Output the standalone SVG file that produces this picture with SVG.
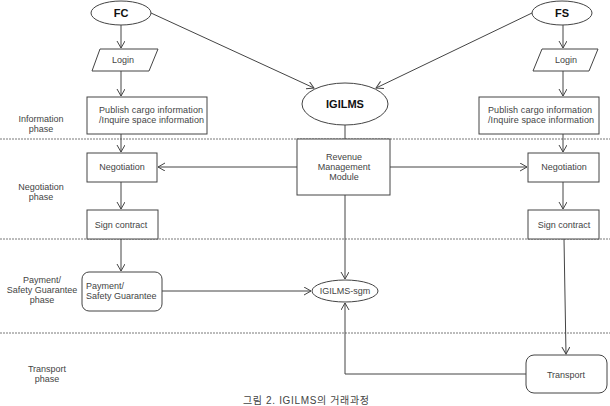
<svg xmlns="http://www.w3.org/2000/svg" width="610" height="406" viewBox="0 0 610 406">
<defs>
<marker id="arr" markerUnits="userSpaceOnUse" markerWidth="10" markerHeight="10" refX="7" refY="4" orient="auto">
<path d="M0,0 L7,4 L0,8" fill="none" stroke="#444" stroke-width="1"/>
</marker>
<style>
.bg{fill:#fff}
.n{fill:#fff;stroke:#444;stroke-width:1}
.c{fill:none;stroke:#444;stroke-width:1}
.a{fill:none;stroke:#444;stroke-width:1;marker-end:url(#arr)}
.d{fill:none;stroke:#555;stroke-width:0.8;stroke-dasharray:2 1}
.t{font-family:"Liberation Sans",Arial,sans-serif;font-size:9px;fill:#444;text-anchor:middle}
.l{font-family:"Liberation Sans",Arial,sans-serif;font-size:9px;fill:#444}
.b{font-family:"Liberation Sans",Arial,sans-serif;font-size:11px;font-weight:bold;fill:#111;text-anchor:middle}
.cap{font-family:"Liberation Sans","Noto Sans CJK KR",sans-serif;font-size:10px;fill:#444}
</style>
</defs>
<rect class="bg" x="0" y="0" width="610" height="406"/>
<g id="phases">
<line class="d" x1="0" y1="139" x2="610" y2="139"/>
<line class="d" x1="0" y1="239" x2="610" y2="239"/>
<line class="d" x1="0" y1="333" x2="610" y2="333"/>
<text class="t" x="41" y="122">Information</text>
<text class="t" x="41" y="132">phase</text>
<text class="t" x="41" y="190">Negotiation</text>
<text class="t" x="41" y="200">phase</text>
<text class="t" x="42" y="283">Payment/</text>
<text class="t" x="42" y="293">Safety Guarantee</text>
<text class="t" x="42" y="303">phase</text>
<text class="t" x="47" y="372">Transport</text>
<text class="t" x="47" y="382">phase</text>
</g>
<g id="connectors">
<line class="a" x1="121" y1="25" x2="121" y2="48"/>
<line class="a" x1="121" y1="71" x2="121" y2="96"/>
<line class="a" x1="121" y1="134" x2="121" y2="152"/>
<line class="a" x1="121" y1="182" x2="121" y2="209"/>
<line class="a" x1="121" y1="239" x2="121" y2="271"/>
<line class="a" x1="563" y1="25" x2="563" y2="48"/>
<line class="a" x1="563" y1="71" x2="563" y2="96"/>
<line class="a" x1="563" y1="134" x2="563" y2="152"/>
<line class="a" x1="563" y1="182" x2="563" y2="209"/>
<line class="a" x1="564" y1="239" x2="566" y2="354"/>
<line class="a" x1="151" y1="13" x2="314" y2="88"/>
<line class="a" x1="532" y1="13" x2="376" y2="88"/>
<line class="c" x1="345" y1="125" x2="345" y2="139"/>
<line class="a" x1="297" y1="167" x2="158" y2="167"/>
<line class="a" x1="390" y1="167" x2="527" y2="167"/>
<line class="a" x1="345" y1="195" x2="345" y2="279"/>
<line class="a" x1="162" y1="291" x2="311" y2="291"/>
<polyline class="a" points="526,374 345,374 345,303"/>
</g>
<g id="FC">
<ellipse class="n" cx="121" cy="13" rx="30" ry="12"/>
<text class="b" x="121" y="17">FC</text>
</g>
<g id="FS">
<ellipse class="n" cx="562" cy="13" rx="30" ry="12"/>
<text class="b" x="562" y="17">FS</text>
</g>
<g id="login-fc">
<polygon class="n" points="100,49 158,49 149,71 92,71"/>
<text class="t" x="123" y="63">Login</text>
</g>
<g id="login-fs">
<polygon class="n" points="542,49 598,49 589,71 533,71"/>
<text class="t" x="566" y="63">Login</text>
</g>
<g id="publish-fc">
<rect class="n" x="87" y="97" width="120" height="37"/>
<text class="l" x="99" y="113" textLength="104" lengthAdjust="spacing">Publish cargo information</text>
<text class="l" x="99" y="123" textLength="105" lengthAdjust="spacing">/Inquire space information</text>
</g>
<g id="publish-fs">
<rect class="n" x="479" y="97" width="120" height="37"/>
<text class="l" x="488" y="113" textLength="104" lengthAdjust="spacing">Publish cargo information</text>
<text class="l" x="488" y="123" textLength="106" lengthAdjust="spacing">/Inquire space information</text>
</g>
<g id="IGILMS">
<ellipse class="n" cx="345" cy="104" rx="43" ry="21"/>
<text class="b" x="345" y="108">IGILMS</text>
</g>
<g id="revenue">
<rect class="n" x="297" y="139" width="93" height="56"/>
<text class="t" x="344" y="160">Revenue</text>
<text class="t" x="344" y="170">Management</text>
<text class="t" x="344" y="180">Module</text>
</g>
<g id="nego-fc">
<rect class="n" x="87" y="153" width="70" height="29"/>
<text class="t" x="122" y="170">Negotiation</text>
</g>
<g id="nego-fs">
<rect class="n" x="528" y="153" width="71" height="29"/>
<text class="t" x="564" y="170">Negotiation</text>
</g>
<g id="sign-fc">
<rect class="n" x="87" y="210" width="71" height="29"/>
<text class="t" x="121" y="228">Sign contract</text>
</g>
<g id="sign-fs">
<rect class="n" x="528" y="210" width="71" height="29"/>
<text class="t" x="564" y="228">Sign contract</text>
</g>
<g id="payment">
<rect class="n" x="82" y="272" width="80" height="39" rx="7"/>
<text class="l" x="86" y="289">Payment/</text>
<text class="l" x="86" y="299">Safety Guarantee</text>
</g>
<g id="sgm">
<ellipse class="n" cx="345" cy="291" rx="33" ry="11"/>
<text class="t" x="345" y="294">IGILMS-sgm</text>
</g>
<g id="transport">
<rect class="n" x="526" y="355" width="81" height="38" rx="8"/>
<text class="t" x="566" y="378">Transport</text>
</g>
<text class="cap" x="243" y="404" textLength="126" lengthAdjust="spacing">그림 2. IGILMS의 거래과정</text>
</svg>
